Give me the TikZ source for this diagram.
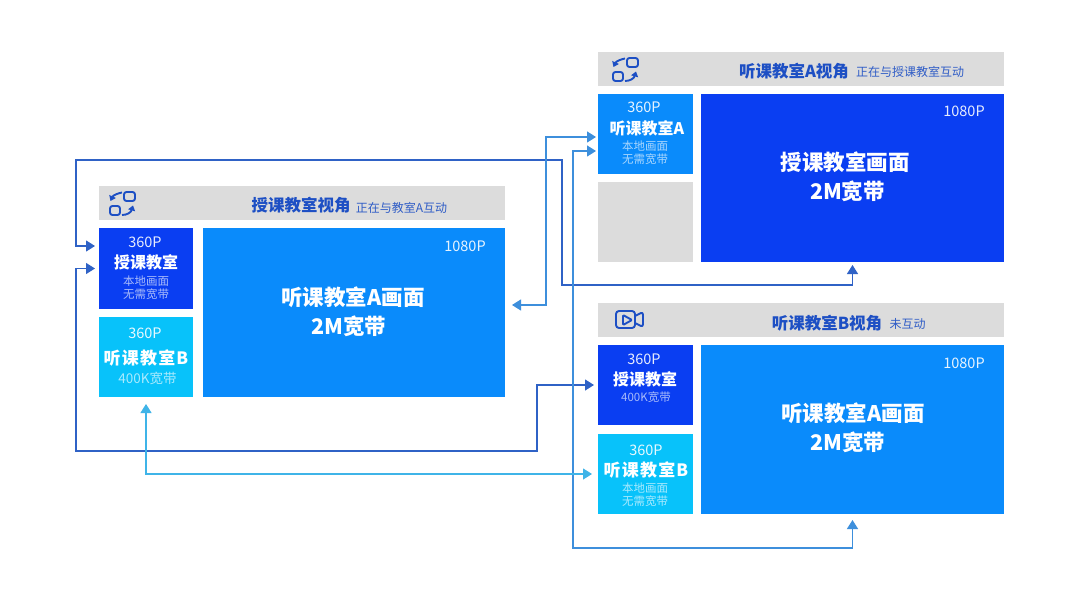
\documentclass[tikz,border=0pt]{standalone}
\usepackage{fontspec}
\setmainfont{Noto Sans CJK SC}
\usetikzlibrary{arrows.meta}
\definecolor{deepblue}{HTML}{0A3EF2}
\definecolor{midblue}{HTML}{0A8BFB}
\definecolor{skyblue}{HTML}{08C2FA}
\definecolor{bargrey}{HTML}{DCDCDC}
\definecolor{titleblue}{HTML}{1D4FC4}
\definecolor{lineA}{HTML}{2F62C6}
\definecolor{lineB}{HTML}{3D8FDC}
\definecolor{lineC}{HTML}{3FB4E8}
\tikzset{
	panel/.style={anchor=north west,inner sep=0pt,outer sep=0pt},
	link/.style={line width=1.2pt,{Triangle[length=9pt,width=11pt]}-{Triangle[length=9pt,width=11pt]}},
	res/.style={text=white,font=\fontsize{14.5}{14.5}\selectfont,opacity=0.9},
	room/.style={text=white,font=\fontsize{16}{16}\selectfont\bfseries},
	wide/.style={text=white,font=\fontsize{17}{17}\selectfont\bfseries\addfontfeature{LetterSpace=7}},
	note/.style={text=white,font=\fontsize{11.5}{11.5}\selectfont,opacity=0.65},
	big/.style={text=white,font=\fontsize{21.5}{21.5}\selectfont\bfseries},
	head/.style={text=titleblue,font=\fontsize{16.5}{16.5}\selectfont\bfseries},
	sub/.style={text=titleblue,font=\fontsize{12}{12}\selectfont,opacity=0.9},
	glyph/.style={draw=titleblue,line width=1.9pt,rounded corners=2.5pt},
	tip/.style={line width=1.9pt,draw=titleblue,-{Triangle[length=5pt,width=7pt]}}
}
\newcommand{\swapicon}[2]{
	\begin{scope}[shift={(#1,#2)}]
		\draw[glyph] (1,-11.5) rectangle (12,-2.5);
		\draw[glyph] (-13,2.5) rectangle (-3,11.5);
		\draw[tip] (-1,-11) .. controls (-6,-10) and (-10,-8) .. (-12.5,-2.5);
		\draw[tip] (-1,11.5) .. controls (4,11.5) and (8,9) .. (10,2);
	\end{scope}
}
\begin{document}
\begin{tikzpicture}[x=1pt,y=-1pt]
	\useasboundingbox[fill=white] (0,0) rectangle (1080,599);
	% three views
	\foreach \nm/\x/\y/\w/\h/\c in {
		barL/99/186/406/34/bargrey, smallLa/99/228/94/81/deepblue, smallLb/99/317/94/80/skyblue, mainL/203/228/302/169/midblue,
		barA/598/52/406/34/bargrey, smallAa/598/94/95/80/midblue, smallAb/598/182/95/80/bargrey, mainA/701/94/303/168/deepblue,
		barB/598/303/406/34/bargrey, smallBa/598/345/95/80/deepblue, smallBb/598/434/95/80/skyblue, mainB/701/345/303/169/midblue}
	{
		\node[panel,fill=\c,minimum width=\w pt,minimum height=\h pt] (\nm) at (\x,\y) {};
	}
	% header bars
	\swapicon{123}{203.5}
	\node[head] (headL) at (301,205) {授课教室视角};
	\node[sub] (subL) at (401.5,208) {正在与教室A互动};
	\swapicon{626}{69.5}
	\node[head] (headA) at (794,71) {听课教室A视角};
	\node[sub] (subA) at (910,72) {正在与授课教室互动};
	\draw[glyph,rounded corners=3pt] (616,311) rectangle (635,328);
	\draw[glyph,line join=round] (635,316) -- (643,312) -- (643,327) -- (635,323);
	\draw[glyph,line join=round,rounded corners=1pt] (623,315) -- (632,320) -- (623,325) -- cycle;
	\node[head] (headB) at (827,323) {听课教室B视角};
	\node[sub] (subB) at (907.5,324) {未互动};
	% small boxes
	\foreach \x/\y in {145/242, 644/107, 145/333, 644/359, 646/450}
	{
		\node[res] at (\x,\y) {360P};
	}
	\node[room] at (146,262) {授课教室};
	\node[room] at (647,128) {听课教室A};
	\node[room] at (645,379) {授课教室};
	\node[wide] at (146,358) {听课教室B};
	\node[wide] at (646,470) {听课教室B};
	\foreach \x/\y in {146/281, 645/146, 645/488}
	{
		\node[note] at (\x,\y) {本地画面};
		\node[note] at (\x,\y+13.5) {无需宽带};
	}
	\node[note,font=\fontsize{13.5}{13.5}\selectfont] at (147.5,378) {400K宽带};
	\node[note] at (646,397) {400K宽带};
	% main boxes
	\foreach \x/\xb/\y/\t in {353/349/297/听课教室A画面, 845/847.5/162/授课教室画面, 853/848/413/听课教室A画面}
	{
		\node[big] at (\x,\y) {\t};
		\node[big] at (\xb,\y+29) {2M宽带};
	}
	\node[res] at (465,246) {1080P};
	\node[res] at (964,111) {1080P};
	\node[res] at (964,363) {1080P};
	% connectors
	\coordinate (cornerA) at (562,285);
	\coordinate (cornerB) at (562,160);
	\coordinate (cornerC) at (76,160);
	\coordinate (cornerD) at (76,246);
	\draw[link,draw=lineA,shorten <=3pt,shorten >=4pt] (mainA.south) |- (cornerA) -- (cornerB) -- (cornerC) -- (cornerD) -- ([yshift=22.5pt]smallLa.west);
	\coordinate (cornerE) at (76,451);
	\coordinate (cornerF) at (537,451);
	\draw[link,draw=lineA,shorten <=4pt,shorten >=4pt] (smallLa.west) -| (cornerE) -- (cornerF) |- (smallBa.west);
	\coordinate (cornerG) at (546,305);
	\coordinate (cornerH) at (546,137);
	\draw[link,draw=lineB,shorten <=7pt,shorten >=2pt] ([yshift=7.5pt]mainL.east) -- (cornerG) -- (cornerH) -- ([yshift=-3pt]smallAa.west);
	\coordinate (cornerI) at (573,151);
	\coordinate (cornerJ) at (573,548);
	\draw[link,draw=lineB,shorten <=2pt,shorten >=6pt] ([yshift=-17pt]smallAa.west) -- (cornerI) -- (cornerJ) -| (mainB.south);
	\coordinate (cornerK) at (146,474);
	\draw[link,draw=lineC,shorten <=7pt,shorten >=6pt] (smallLb.south) -- (cornerK) -- (smallBb.west);
\end{tikzpicture}
\end{document}
